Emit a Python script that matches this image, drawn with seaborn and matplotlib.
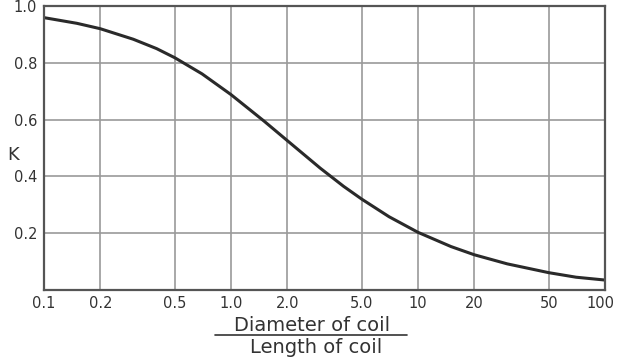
import numpy as np
import pandas as pd
import seaborn as sns
import matplotlib
matplotlib.use("Agg")
from matplotlib import pyplot as plt
from matplotlib.transforms import ScaledTranslation

# ratio diameter / length of coil, and K
ratio = [0.1, 0.15, 0.2, 0.3, 0.4, 0.5, 0.7, 1.0, 1.5, 2.0, 3.0, 4.0, 5.0,
         7.0, 10, 15, 20, 30, 50, 70, 100]
k_val = [0.959, 0.939, 0.920, 0.883, 0.850, 0.818, 0.761, 0.688, 0.595, 0.526,
         0.429, 0.365, 0.320, 0.258, 0.203, 0.153, 0.124, 0.092, 0.061, 0.045, 0.035]

xticks = [0.1, 0.2, 0.5, 1.0, 2.0, 5.0, 10, 20, 50, 100]
xlabels = ["0.1", "0.2", "0.5", "1.0", "2.0", "5.0", "10", "20", "50", "100"]
yticks = [0.2, 0.4, 0.6, 0.8, 1.0]
ylabels = ["0.2", "0.4", "0.6", "0.8", "1.0"]

df = pd.DataFrame({"ratio": ratio, "K": k_val})

sns.set_style("white")
plt.rcParams["font.family"] = ["DejaVu Sans"]

fig = plt.figure(figsize=(6.17, 3.57), dpi=100)
ax = fig.add_axes([0.0713, 0.1877, 0.9093, 0.7955])

sns.lineplot(data=df, x="ratio", y="K", ax=ax, color="#2a2a2a", linewidth=2.2)
ax.set_xscale("log")
ax.set_xlim(0.1, 100)
ax.set_ylim(0, 1.0)

ax.set_xticks(xticks)
ax.set_xticklabels(xlabels)
ax.set_yticks(yticks)
ax.set_yticklabels(ylabels)
ax.xaxis.set_minor_locator(matplotlib.ticker.NullLocator())
ax.tick_params(axis="both", length=0, labelsize=10.5, colors="#333333")
ax.tick_params(axis="x", pad=4)
ax.tick_params(axis="y", pad=5)
# nudge the last label left so it stays inside the picture
last = ax.get_xticklabels()[-1]
last.set_transform(last.get_transform() + ScaledTranslation(-0.05, 0, fig.dpi_scale_trans))

ax.grid(True, color="#9a9a9a", linewidth=1.2)
for s in ax.spines.values():
    s.set_color("#555555")
    s.set_linewidth(1.6)

ax.set_xlabel("")
ax.set_ylabel("")
fig.text(0.022, 0.566, "K", ha="center", va="center", fontsize=13, color="#333333")

# fraction label under the x axis
fig.text(0.506, 0.073, "Diameter of coil", ha="center", va="baseline",
         fontsize=14, color="#333333")
fig.add_artist(plt.Line2D([0.348, 0.66], [0.062, 0.062], color="#333333",
                          linewidth=1.2, transform=fig.transFigure))
fig.text(0.513, 0.052, "Length of coil", ha="center", va="top",
         fontsize=14, color="#333333")

fig.savefig("out.png", dpi=100)
